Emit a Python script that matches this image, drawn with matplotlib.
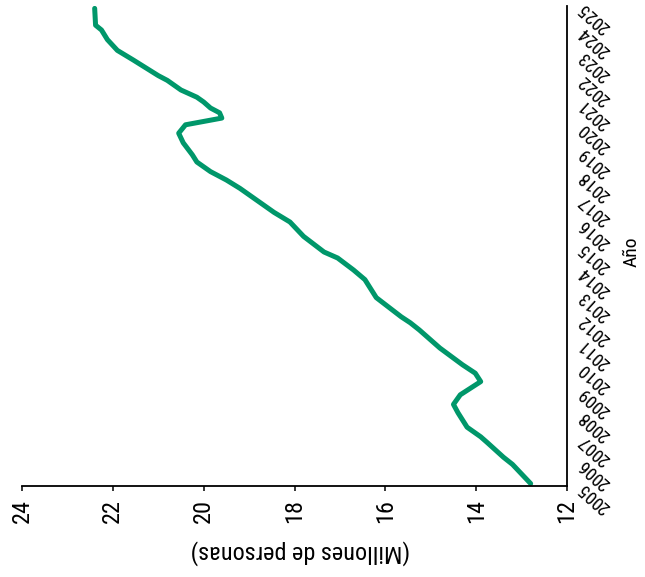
import matplotlib
matplotlib.use("Agg")
import matplotlib.pyplot as plt

plt.rcParams['font.family'] = ['Roboto Condensed', 'DejaVu Sans']
plt.rcParams['font.stretch'] = 'condensed'

# Data (time in years, value in millions of persons)
tiempo = [2005.1, 2005.9, 2006.2, 2006.8, 2007.05, 2007.45, 2008.05, 2008.4, 2008.8,
          2009.35, 2009.7, 2010.05, 2010.75, 2011.5, 2011.8, 2012.05, 2012.85, 2013.6,
          2014.0, 2014.5, 2014.75, 2015.4, 2016.0, 2016.4, 2016.8, 2017.4, 2017.75,
          2018.1, 2018.5, 2018.8, 2019.3, 2019.7, 2020.05, 2020.33, 2020.55, 2020.75,
          2021.0, 2021.2, 2021.5, 2021.9, 2022.1, 2022.75, 2023.15, 2023.6, 2024.0,
          2024.2, 2024.9]
personas = [12.8, 13.2, 13.4, 13.75, 13.9, 14.2, 14.4, 14.5, 14.35,
            13.9, 14.02, 14.3, 14.8, 15.25, 15.45, 15.65, 16.2, 16.45,
            16.7, 17.05, 17.35, 17.8, 18.1, 18.45, 18.75, 19.2, 19.5,
            19.85, 20.15, 20.25, 20.45, 20.55, 20.4, 19.6, 19.65, 19.85,
            20.0, 20.15, 20.5, 20.8, 21.0, 21.55, 21.9, 22.12, 22.25,
            22.38, 22.4]
anios = list(range(2005, 2026))
valor_ticks = [24, 22, 20, 18, 16, 14, 12]

W, H = 645, 577
fig = plt.figure(figsize=(W / 100, H / 100), dpi=100)
ax = fig.add_axes([22 / W, 1 - 486 / H, (567 - 22) / W, (486 - 6) / H])

ax.plot(personas, tiempo, color='#00976A', lw=3.6, solid_capstyle='round',
        solid_joinstyle='round')

ax.set_xlim(24, 12)
ax.set_ylim(2005, 2025)

for s in ['top', 'left']:
    ax.spines[s].set_visible(False)
for s in ['bottom', 'right']:
    ax.spines[s].set_linewidth(1.3)
    ax.spines[s].set_color('black')

ax.set_xticks(valor_ticks)
ax.set_xticklabels([str(v) for v in valor_ticks], rotation=90, fontsize=17.5)
ax.tick_params(axis='x', length=3.6, width=1.1, pad=6, direction='out')

ax.yaxis.tick_right()
ax.set_yticks(anios)
ax.set_yticklabels([str(a) for a in anios], fontsize=13)
ax.tick_params(axis='y', length=0, pad=10)
for lbl in ax.get_yticklabels():
    lbl.set_rotation(138)
    lbl.set_rotation_mode('anchor')
    lbl.set_ha('right')
    lbl.set_va('center')

fig.text(300 / W, 1 - 552 / H, '(Millones de personas)', rotation=180,
         ha='center', va='center', fontsize=17.5)
fig.text(632 / W, 1 - 252 / H, 'Año', rotation=90, ha='center', va='center',
         fontsize=14)

fig.savefig('out.png', dpi=100)
